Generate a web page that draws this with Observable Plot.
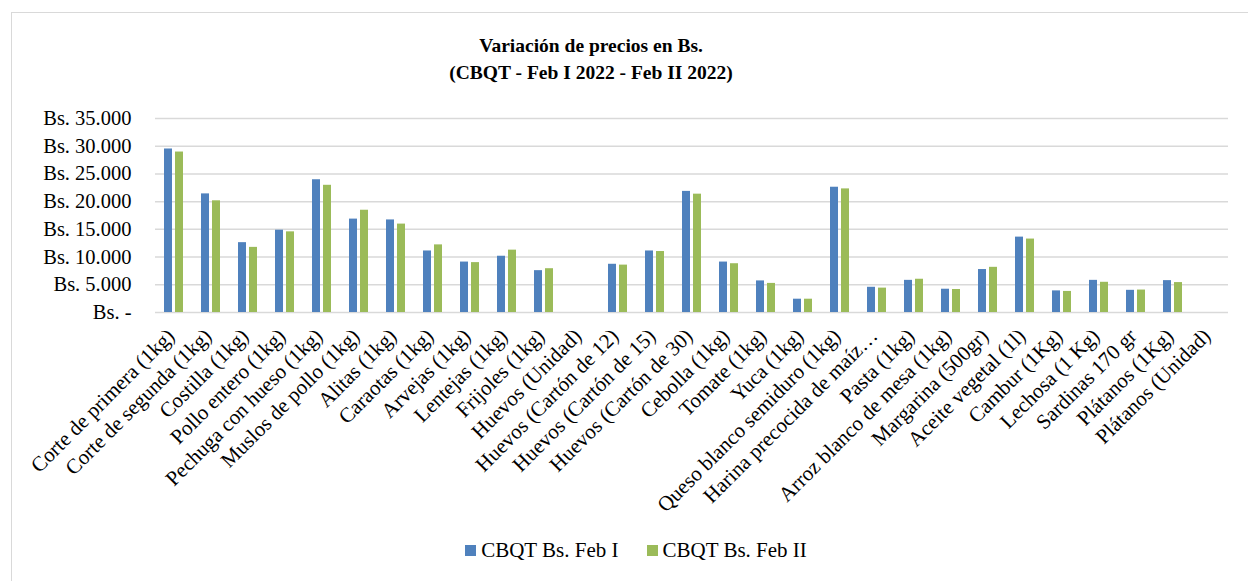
<!DOCTYPE html>
<html><head><meta charset="utf-8">
<script src="https://cdn.jsdelivr.net/npm/d3@7"></script>
<script src="https://cdn.jsdelivr.net/npm/@observablehq/plot@0.6"></script>
<style>
body{margin:0;background:#fff;}
#wrap{position:relative;width:1248px;height:581px;overflow:hidden;font-family:"Liberation Serif",serif;color:#000;}
#frame{position:absolute;left:11px;top:12px;width:1400px;height:800px;border-left:1px solid #d9d9d9;border-top:1px solid #d9d9d9;}
#title{position:absolute;left:0;top:32px;width:1182px;text-align:center;font-weight:bold;font-size:19.5px;line-height:27px;}
#chart{position:absolute;left:0;top:100px;}
#legend{position:absolute;left:0;top:538px;width:1272px;display:flex;justify-content:center;align-items:center;font-size:21px;line-height:24px;}
.item{display:flex;align-items:center;margin:0 14px;}
.sw{width:11px;height:11px;margin-right:5px;}
</style>
</head><body>
<div id="wrap">
  <div id="frame"></div>
  <div id="title">Variación de precios en Bs.<br>(CBQT - Feb I 2022 - Feb II 2022)</div>
  <div id="chart"></div>
  <div id="legend"></div>
</div>
<script>
const categories = [
  "Corte de primera (1kg)", "Corte de segunda (1kg)", "Costilla (1kg)", "Pollo entero (1kg)",
  "Pechuga con hueso (1kg)", "Muslos de pollo (1kg)", "Alitas (1kg)", "Caraotas (1kg)",
  "Arvejas (1kg)", "Lentejas (1kg)", "Frijoles (1kg)", "Huevos (Unidad)",
  "Huevos (Cartón de 12)", "Huevos (Cartón de 15)", "Huevos (Cartón de 30)", "Cebolla (1kg)",
  "Tomate (1kg)", "Yuca (1kg)", "Queso blanco semiduro (1kg)", "Harina precocida de maíz…",
  "Pasta (1kg)", "Arroz blanco de mesa (1kg)", "Margarina (500gr)", "Aceite vegetal (1l)",
  "Cambur (1Kg)", "Lechosa (1 Kg)", "Sardinas 170 gr", "Plátanos (1Kg)", "Plátanos (Unidad)"
];
const series = ["CBQT Bs. Feb I", "CBQT Bs. Feb II"];
const febI  = [29500, 21400, 12600, 14850, 23950, 16850, 16700, 11100, 9100, 10150, 7550, null,
               8700, 11100, 21850, 9100, 5700, 2400, 22600, 4550, 5800, 4200, 7750, 13600,
               3900, 5800, 4000, 5750, null];
const febII = [28950, 20150, 11750, 14550, 22950, 18450, 15950, 12200, 9000, 11250, 7900, null,
               8550, 11000, 21350, 8800, 5250, 2400, 22300, 4400, 6000, 4150, 8150, 13250,
               3800, 5450, 4050, 5400, null];
const colors = ["#4F81BD", "#9BBB59"];
const yTicks = [0, 5000, 10000, 15000, 20000, 25000, 30000, 35000];

const rows = [];
categories.forEach((c, i) => {
  rows.push({category: c, series: series[0], value: febI[i]});
  rows.push({category: c, series: series[1], value: febII[i]});
});
const fmt = d3.formatLocale({decimal: ",", thousands: ".", grouping: [3], currency: ["", ""]}).format(",");

const plot = Plot.plot({
  width: 1248, height: 420,
  marginTop: 18, marginBottom: 208, marginLeft: 152, marginRight: 18,
  style: {fontFamily: '"Liberation Serif", serif', fontSize: "20.5px", color: "#000", background: "transparent", overflow: "visible"},
  fx: {domain: categories, padding: 0, label: null},
  x: {domain: series, paddingInner: 0.25, paddingOuter: 0.8, axis: null},
  y: {domain: [0, 35000], label: null},
  color: {domain: series, range: colors},
  marks: [
    Plot.gridY(yTicks, {stroke: "#d9d9d9", strokeOpacity: 1, strokeWidth: 1.5}),
    Plot.barY(rows, {fx: "category", x: "series", y: "value", fill: "series"}),
    Plot.axisY(yTicks, {tickSize: 0, tickPadding: 24, label: null, tickFormat: d => d === 0 ? "Bs. -" : "Bs. " + fmt(d)}),
    Plot.axisFx({anchor: "bottom", tickSize: 0, tickRotate: -45, tickPadding: 20, textAnchor: "end", lineAnchor: "middle", dx: -3, fontSize: 21, label: null})
  ]
});
document.getElementById("chart").appendChild(plot);

const legend = document.getElementById("legend");
series.forEach((s, i) => {
  const it = document.createElement("div");
  it.className = "item";
  it.innerHTML = `<span class="sw" style="background:${colors[i]}"></span><span>${s}</span>`;
  legend.appendChild(it);
});
</script>
</body></html>
